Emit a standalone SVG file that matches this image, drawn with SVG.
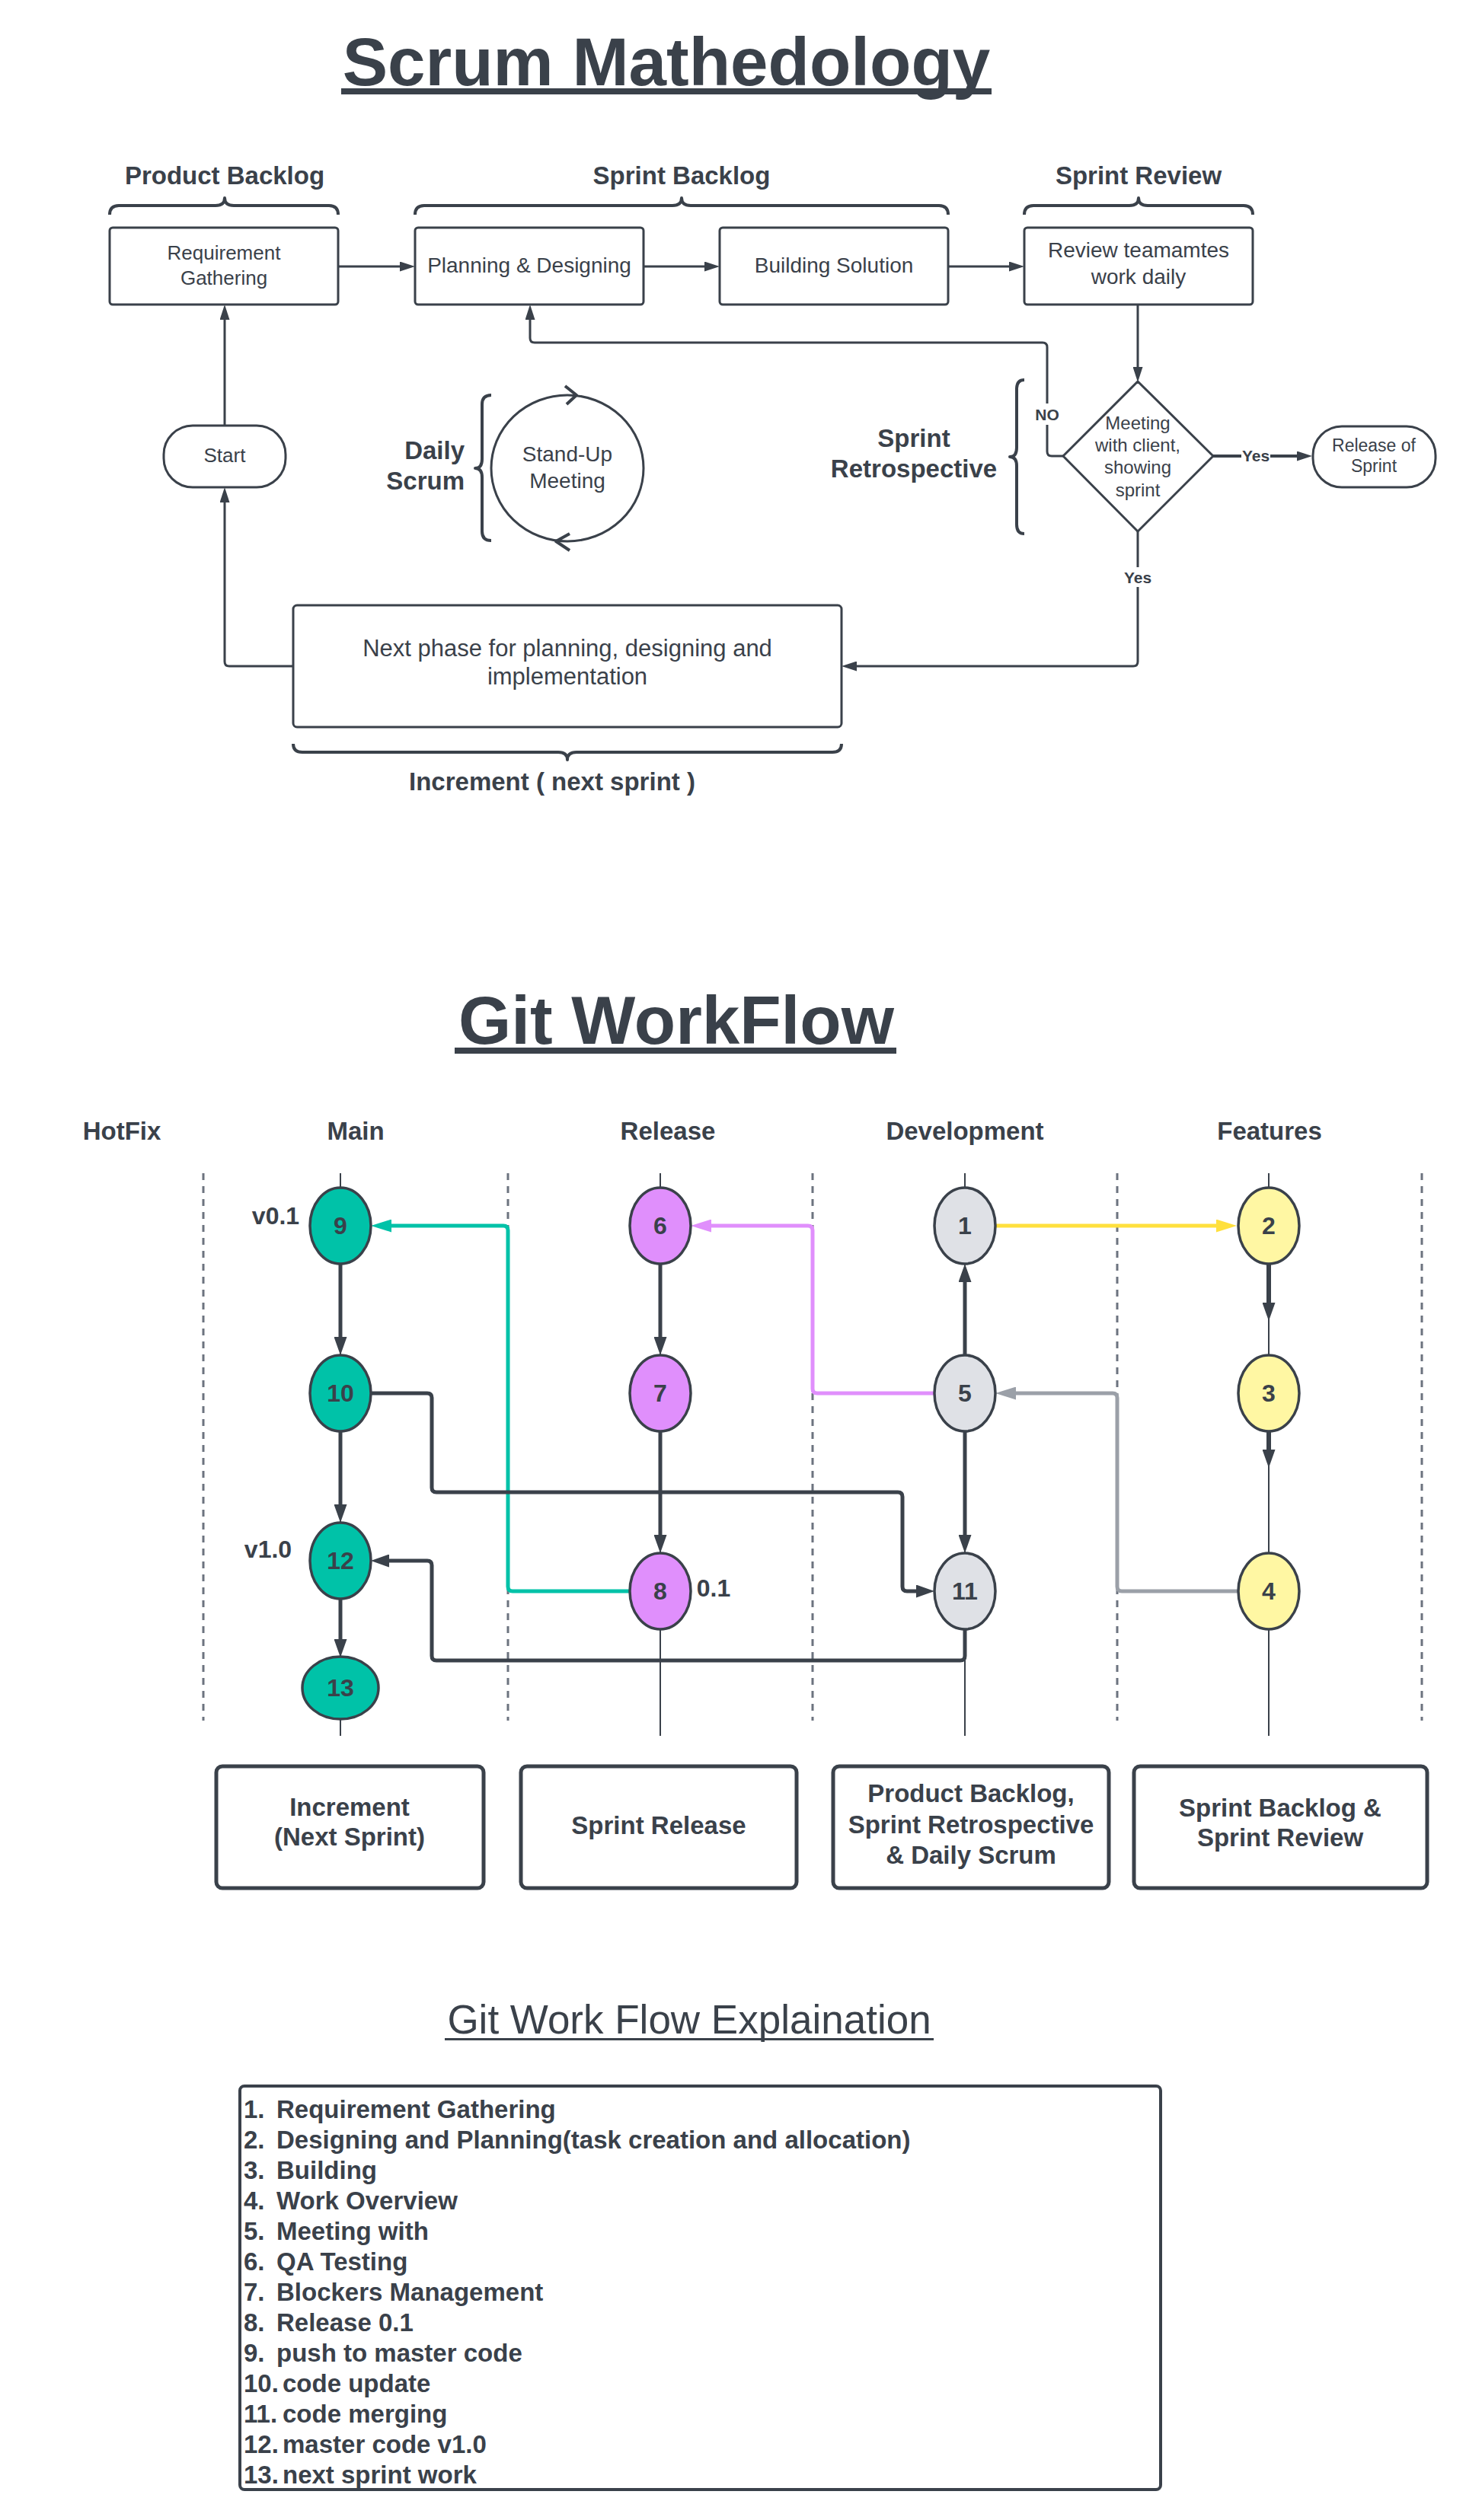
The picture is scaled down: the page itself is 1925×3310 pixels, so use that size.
<svg xmlns="http://www.w3.org/2000/svg" width="1925" height="3310" viewBox="0 0 1925 3310">
<style>
text{font-family:"Liberation Sans",Arial,sans-serif;fill:#3a414a;}
.b{font-weight:bold;}
.c{text-anchor:middle;dominant-baseline:central;}
.box{fill:#fff;stroke:#3a414a;stroke-width:3;}
.bbox{fill:#fff;stroke:#3a414a;stroke-width:5;}
.ln{fill:none;stroke:#3a414a;stroke-width:3;}
.brace{fill:none;stroke:#3a414a;stroke-width:4;stroke-linejoin:round;}
.dash{stroke:#6c737f;stroke-width:3;stroke-dasharray:9 8;}
.lane{stroke:#3a414a;stroke-width:2;}
.gd{fill:none;stroke:#3a414a;stroke-width:5;}
.node{stroke:#3a414a;stroke-width:3.5;}
.teal{fill:#00c2a8;} .pur{fill:#e08ffc;} .gry{fill:#dfe1e6;} .yel{fill:#fff7a3;}
.lb{fill:#fff;stroke:none;}
</style>
<defs>
<marker id="mt" viewBox="0 0 20 13" refX="14" refY="6.5" markerWidth="20" markerHeight="13" orient="auto" markerUnits="userSpaceOnUse"><path d="M0,0 L20,6.5 L0,13 z" fill="#3a414a"/></marker>
<marker id="md" viewBox="0 0 24 17" refX="14" refY="8.5" markerWidth="24" markerHeight="17" orient="auto" markerUnits="userSpaceOnUse"><path d="M0,0 L24,8.5 L0,17 z" fill="#3a414a"/></marker>
<marker id="mteal" viewBox="0 0 27 17" refX="17" refY="8.5" markerWidth="27" markerHeight="17" orient="auto" markerUnits="userSpaceOnUse"><path d="M0,0 L27,8.5 L0,17 z" fill="#00c2a8"/></marker>
<marker id="mpur" viewBox="0 0 27 17" refX="17" refY="8.5" markerWidth="27" markerHeight="17" orient="auto" markerUnits="userSpaceOnUse"><path d="M0,0 L27,8.5 L0,17 z" fill="#e08ffc"/></marker>
<marker id="mgry" viewBox="0 0 27 17" refX="17" refY="8.5" markerWidth="27" markerHeight="17" orient="auto" markerUnits="userSpaceOnUse"><path d="M0,0 L27,8.5 L0,17 z" fill="#9ba0a8"/></marker>
<marker id="myel" viewBox="0 0 27 17" refX="17" refY="8.5" markerWidth="27" markerHeight="17" orient="auto" markerUnits="userSpaceOnUse"><path d="M0,0 L27,8.5 L0,17 z" fill="#ffe03d"/></marker>
</defs>
<rect x="0" y="0" width="1925" height="3310" fill="#fff"/>

<!-- ===== Scrum ===== -->
<g id="scrum-title">
<text x="875" y="112" font-size="89" class="b" text-anchor="middle">Scrum Mathedology</text>
<rect x="448" y="116" width="854" height="8" fill="#3a414a"/>
</g>
<g id="section-labels">
<text x="295" y="230" font-size="33" class="b c">Product Backlog</text>
<text x="895" y="230" font-size="33" class="b c">Sprint Backlog</text>
<text x="1495" y="230" font-size="33" class="b c">Sprint Review</text>
<path class="brace" d="M144,282 Q144,270 156,270 L283,270 Q295,270 295,260 Q295,270 307,270 L432,270 Q444,270 444,282"/>
<path class="brace" d="M545,282 Q545,270 557,270 L883,270 Q895,270 895,260 Q895,270 907,270 L1233,270 Q1245,270 1245,282"/>
<path class="brace" d="M1345,282 Q1345,270 1357,270 L1483,270 Q1495,270 1495,260 Q1495,270 1507,270 L1633,270 Q1645,270 1645,282"/>
</g>

<g id="connectors-scrum">
<path class="ln" d="M444,350 L539,350" marker-end="url(#mt)"/>
<path class="ln" d="M845,350 L939,350" marker-end="url(#mt)"/>
<path class="ln" d="M1245,350 L1339,350" marker-end="url(#mt)"/>
<path class="ln" d="M1494,400 L1494,496" marker-end="url(#mt)"/>
<path class="ln" d="M1593,599 L1717,599" style="stroke-width:4" marker-end="url(#mt)"/>
<path class="ln" d="M1494,697 L1494,869 Q1494,875 1488,875 L1111,875" marker-end="url(#mt)"/>
<path class="ln" d="M1396,599 L1381,599 Q1375,599 1375,593 L1375,456 Q1375,450 1369,450 L702,450 Q696,450 696,444 L696,406" marker-end="url(#mt)"/>
<path class="ln" d="M385,875 L301,875 Q295,875 295,869 L295,646" marker-end="url(#mt)"/>
<path class="ln" d="M295,559 L295,406" marker-end="url(#mt)"/>
<rect class="lb" x="1359" y="530" width="32" height="28"/>
<text x="1375" y="544" font-size="21" class="b c">NO</text>
<rect class="lb" x="1630" y="588" width="38" height="22"/>
<text x="1649" y="598" font-size="21" class="b c">Yes</text>
<rect class="lb" x="1474" y="745" width="40" height="26"/>
<text x="1494" y="758" font-size="21" class="b c">Yes</text>
</g>

<g id="node-requirement">
<rect class="box" x="144" y="299" width="300" height="101" rx="4"/>
<text x="294" y="332" font-size="26" class="c">Requirement</text>
<text x="294" y="365" font-size="26" class="c">Gathering</text>
</g>
<g id="node-planning">
<rect class="box" x="545" y="299" width="300" height="101" rx="4"/>
<text x="695" y="348" font-size="28" class="c">Planning &amp; Designing</text>
</g>
<g id="node-building">
<rect class="box" x="945" y="299" width="300" height="101" rx="4"/>
<text x="1095" y="348" font-size="28" class="c">Building Solution</text>
</g>
<g id="node-review">
<rect class="box" x="1345" y="299" width="300" height="101" rx="4"/>
<text x="1495" y="328" font-size="28" class="c">Review teamamtes</text>
<text x="1495" y="363" font-size="28" class="c">work daily</text>
</g>
<g id="node-start">
<rect class="box" x="215" y="559" width="160" height="81" rx="38"/>
<text x="295" y="598" font-size="26" class="c">Start</text>
</g>
<g id="node-standup">
<text x="610" y="591" font-size="33" class="b" text-anchor="end" dominant-baseline="central">Daily</text>
<text x="610" y="631" font-size="33" class="b" text-anchor="end" dominant-baseline="central">Scrum</text>
<path class="brace" d="M645,519 Q633,519 633,531 L633,603 Q633,615 624,615 Q633,615 633,627 L633,698 Q633,710 645,710"/>
<ellipse cx="745" cy="615" rx="100" ry="96" class="box"/>
<path class="brace" d="M742,507 L757,519 L744,531"/>
<path class="brace" d="M748,701 L730,711 L748,723"/>
<text x="745" y="596" font-size="28" class="c">Stand-Up</text>
<text x="745" y="631" font-size="28" class="c">Meeting</text>
</g>
<g id="node-retrospective">
<text x="1200" y="575" font-size="33" class="b c">Sprint</text>
<text x="1200" y="615" font-size="33" class="b c">Retrospective</text>
<path class="brace" d="M1345,499 Q1335,499 1335,511 L1335,588 Q1335,600 1326,600 Q1335,600 1335,612 L1335,689 Q1335,701 1345,701"/>
</g>
<g id="node-decision">
<path class="box" d="M1494,501 L1593,599 L1494,698 L1396,599 Z" stroke-linejoin="round"/>
<text x="1494" y="555" font-size="24" class="c">Meeting</text>
<text x="1494" y="584" font-size="24" class="c">with client,</text>
<text x="1494" y="613" font-size="24" class="c">showing</text>
<text x="1494" y="643" font-size="24" class="c">sprint</text>
</g>
<g id="node-release-sprint">
<rect class="box" x="1724" y="560" width="161" height="80" rx="38"/>
<text x="1804" y="585" font-size="23" class="c">Release of</text>
<text x="1804" y="612" font-size="23" class="c">Sprint</text>
</g>
<g id="node-next-phase">
<rect class="box" x="385" y="795" width="720" height="160" rx="5"/>
<text x="745" y="851" font-size="31" class="c">Next phase for planning, designing and</text>
<text x="745" y="888" font-size="31" class="c">implementation</text>
<path class="brace" d="M385,977 Q385,988 397,988 L733,988 Q745,988 745,998 Q745,988 757,988 L1093,988 Q1105,988 1105,977"/>
<text x="725" y="1026" font-size="33" class="b c">Increment ( next sprint )</text>
</g>

<!-- ===== Git WorkFlow ===== -->
<g id="git-title">
<text x="888" y="1371" font-size="89" class="b" text-anchor="middle">Git WorkFlow</text>
<rect x="597" y="1376" width="580" height="8" fill="#3a414a"/>
</g>
<g id="lane-headers">
<text x="160" y="1485" font-size="33" class="b c">HotFix</text>
<text x="467" y="1485" font-size="33" class="b c">Main</text>
<text x="877" y="1485" font-size="33" class="b c">Release</text>
<text x="1267" y="1485" font-size="33" class="b c">Development</text>
<text x="1667" y="1485" font-size="33" class="b c">Features</text>
</g>
<g id="lanes">
<line class="dash" x1="267" y1="1541" x2="267" y2="2260"/>
<line class="dash" x1="667" y1="1541" x2="667" y2="2260"/>
<line class="dash" x1="1067" y1="1541" x2="1067" y2="2260"/>
<line class="dash" x1="1467" y1="1541" x2="1467" y2="2260"/>
<line class="dash" x1="1867" y1="1541" x2="1867" y2="2260"/>
<line class="lane" x1="447" y1="1541" x2="447" y2="2280"/>
<line class="lane" x1="867" y1="1541" x2="867" y2="2280"/>
<line class="lane" x1="1267" y1="1541" x2="1267" y2="2280"/>
<line class="lane" x1="1666" y1="1541" x2="1666" y2="2280"/>
</g>
<g id="connectors-git">
<path class="gd" d="M447,1660 L447,1770" marker-end="url(#md)"/>
<path class="gd" d="M447,1880 L447,1990" marker-end="url(#md)"/>
<path class="gd" d="M447,2100 L447,2167" marker-end="url(#md)"/>
<path class="gd" d="M867,1660 L867,1770" marker-end="url(#md)"/>
<path class="gd" d="M867,1880 L867,2030" marker-end="url(#md)"/>
<path class="gd" d="M1267,1780 L1267,1670" marker-end="url(#md)"/>
<path class="gd" d="M1267,1880 L1267,2030" marker-end="url(#md)"/>
<path class="gd" d="M1666,1660 L1666,1725" style="stroke-width:6" marker-end="url(#md)"/>
<path class="gd" d="M1666,1880 L1666,1918" style="stroke-width:6" marker-end="url(#md)"/>
<path fill="none" stroke="#ffe03d" stroke-width="5" d="M1307,1610 L1614,1610" marker-end="url(#myel)"/>
<path fill="none" stroke="#e08ffc" stroke-width="5" d="M1227,1830 L1073,1830 Q1067,1830 1067,1824 L1067,1616 Q1067,1610 1061,1610 L917,1610" marker-end="url(#mpur)"/>
<path fill="none" stroke="#00c2a8" stroke-width="5" d="M827,2090 L673,2090 Q667,2090 667,2084 L667,1616 Q667,1610 661,1610 L497,1610" marker-end="url(#mteal)"/>
<path fill="none" stroke="#9ba0a8" stroke-width="5" d="M1626,2090 L1473,2090 Q1467,2090 1467,2084 L1467,1836 Q1467,1830 1461,1830 L1317,1830" marker-end="url(#mgry)"/>
<path class="gd" d="M487,1830 L561,1830 Q567,1830 567,1836 L567,1954 Q567,1960 573,1960 L1179,1960 Q1185,1960 1185,1966 L1185,2084 Q1185,2090 1191,2090 L1217,2090" marker-end="url(#md)"/>
<path class="gd" d="M1267,2140 L1267,2175 Q1267,2181 1261,2181 L573,2181 Q567,2181 567,2175 L567,2056 Q567,2050 561,2050 L497,2050" marker-end="url(#md)"/>
</g>
<g id="node-9"><ellipse class="node teal" cx="447" cy="1610" rx="40" ry="50"/><text x="447" y="1610" font-size="32" class="b c">9</text></g>
<g id="node-10"><ellipse class="node teal" cx="447" cy="1830" rx="40" ry="50"/><text x="447" y="1830" font-size="32" class="b c">10</text></g>
<g id="node-12"><ellipse class="node teal" cx="447" cy="2050" rx="40" ry="50"/><text x="447" y="2050" font-size="32" class="b c">12</text></g>
<g id="node-13"><ellipse class="node teal" cx="447" cy="2217" rx="50" ry="41"/><text x="447" y="2217" font-size="32" class="b c">13</text></g>
<g id="node-6"><ellipse class="node pur" cx="867" cy="1610" rx="40" ry="50"/><text x="867" y="1610" font-size="32" class="b c">6</text></g>
<g id="node-7"><ellipse class="node pur" cx="867" cy="1830" rx="40" ry="50"/><text x="867" y="1830" font-size="32" class="b c">7</text></g>
<g id="node-8"><ellipse class="node pur" cx="867" cy="2090" rx="40" ry="50"/><text x="867" y="2090" font-size="32" class="b c">8</text></g>
<g id="node-1"><ellipse class="node gry" cx="1267" cy="1610" rx="40" ry="50"/><text x="1267" y="1610" font-size="32" class="b c">1</text></g>
<g id="node-5"><ellipse class="node gry" cx="1267" cy="1830" rx="40" ry="50"/><text x="1267" y="1830" font-size="32" class="b c">5</text></g>
<g id="node-11"><ellipse class="node gry" cx="1267" cy="2090" rx="40" ry="50"/><text x="1267" y="2090" font-size="32" class="b c">11</text></g>
<g id="node-2"><ellipse class="node yel" cx="1666" cy="1610" rx="40" ry="50"/><text x="1666" y="1610" font-size="32" class="b c">2</text></g>
<g id="node-3"><ellipse class="node yel" cx="1666" cy="1830" rx="40" ry="50"/><text x="1666" y="1830" font-size="32" class="b c">3</text></g>
<g id="node-4"><ellipse class="node yel" cx="1666" cy="2090" rx="40" ry="50"/><text x="1666" y="2090" font-size="32" class="b c">4</text></g>
<g id="version-labels">
<text x="362" y="1597" font-size="32" class="b c">v0.1</text>
<text x="352" y="2035" font-size="32" class="b c">v1.0</text>
<text x="937" y="2086" font-size="32" class="b c">0.1</text>
</g>
<g id="box-increment">
<rect class="bbox" x="284" y="2320" width="351" height="160" rx="8"/>
<text x="459" y="2373" font-size="33" class="b c">Increment</text>
<text x="459" y="2412" font-size="33" class="b c">(Next Sprint)</text>
</g>
<g id="box-sprint-release">
<rect class="bbox" x="684" y="2320" width="362" height="160" rx="8"/>
<text x="865" y="2397" font-size="33" class="b c">Sprint Release</text>
</g>
<g id="box-product-backlog">
<rect class="bbox" x="1094" y="2320" width="362" height="160" rx="8"/>
<text x="1275" y="2355" font-size="33" class="b c">Product Backlog,</text>
<text x="1275" y="2396" font-size="33" class="b c">Sprint Retrospective</text>
<text x="1275" y="2436" font-size="33" class="b c">&amp; Daily Scrum</text>
</g>
<g id="box-sprint-backlog">
<rect class="bbox" x="1489" y="2320" width="385" height="160" rx="8"/>
<text x="1681" y="2374" font-size="33" class="b c">Sprint Backlog &amp;</text>
<text x="1681" y="2413" font-size="33" class="b c">Sprint Review</text>
</g>

<!-- ===== Explanation ===== -->
<g id="explanation-title">
<text x="905" y="2671" font-size="53" text-anchor="middle">Git Work Flow Explaination</text>
<rect x="584" y="2677" width="642" height="3" fill="#3a414a"/>
</g>
<g id="explanation-list">
<rect x="315" y="2740" width="1209" height="530" rx="6" fill="#fff" stroke="#3a414a" stroke-width="4"/>
<g font-size="33" class="b" dominant-baseline="central">
<text x="320" y="2770">1.</text><text x="363" y="2770">Requirement Gathering</text>
<text x="320" y="2810">2.</text><text x="363" y="2810">Designing and Planning(task creation and allocation)</text>
<text x="320" y="2850">3.</text><text x="363" y="2850">Building</text>
<text x="320" y="2890">4.</text><text x="363" y="2890">Work Overview</text>
<text x="320" y="2930">5.</text><text x="363" y="2930">Meeting with</text>
<text x="320" y="2970">6.</text><text x="363" y="2970">QA Testing</text>
<text x="320" y="3010">7.</text><text x="363" y="3010">Blockers Management</text>
<text x="320" y="3050">8.</text><text x="363" y="3050">Release 0.1</text>
<text x="320" y="3090">9.</text><text x="363" y="3090">push to master code</text>
<text x="320" y="3130">10.</text><text x="371" y="3130">code update</text>
<text x="320" y="3170">11.</text><text x="371" y="3170">code merging</text>
<text x="320" y="3210">12.</text><text x="371" y="3210">master code v1.0</text>
<text x="320" y="3250">13.</text><text x="371" y="3250">next sprint work</text>
</g>
</g>
</svg>
